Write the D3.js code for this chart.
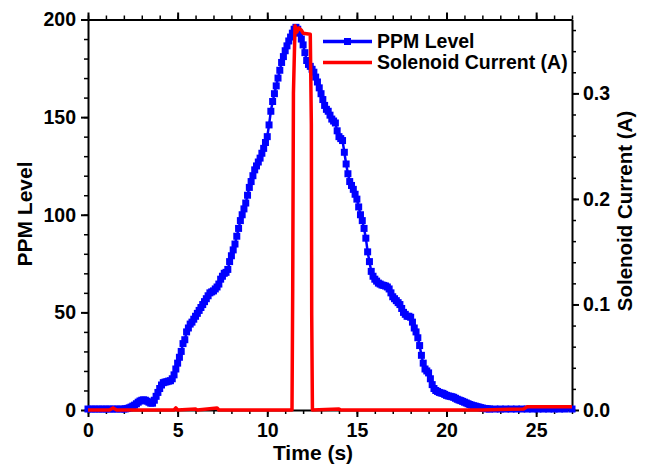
<!DOCTYPE html>
<html>
<head>
<meta charset="utf-8">
<script src="https://cdn.jsdelivr.net/npm/d3@7"></script>
<style>
  body { margin: 0; background: #fff; }
  text { font-family: "Liberation Sans", Arial, sans-serif; font-weight: bold; fill: #000; }
</style>
</head>
<body>
<script>
// PPM level readings (time in s, level in ppm)
var ppmTime = [0, 0.2, 0.4, 0.6, 0.8, 1.0, 1.2, 1.4, 1.6, 1.8,
  2.0, 2.1, 2.2, 2.3, 2.4, 2.5, 2.6, 2.7, 2.8, 2.9, 3.0, 3.1, 3.2, 3.3, 3.4, 3.5, 3.6, 3.7, 3.8, 3.9,
  4.0, 4.1, 4.2, 4.3, 4.4, 4.5, 4.6, 4.7, 4.8, 4.9, 5.0, 5.1, 5.2, 5.3, 5.4, 5.5, 5.6, 5.7, 5.8, 5.9,
  6.0, 6.1, 6.2, 6.3, 6.4, 6.5, 6.6, 6.7, 6.8, 6.9, 7.0, 7.1, 7.2, 7.3, 7.4, 7.5, 7.6, 7.7, 7.8, 7.9,
  8.0, 8.1, 8.2, 8.3, 8.4, 8.5, 8.6, 8.7, 8.8, 8.9, 9.0, 9.1, 9.2, 9.3, 9.4, 9.5, 9.6, 9.7, 9.8, 9.9,
  10.0, 10.1, 10.2, 10.3, 10.4, 10.5, 10.6, 10.7, 10.8, 10.9, 11.0, 11.1, 11.2, 11.3, 11.4, 11.5, 11.6, 11.7, 11.8, 11.9,
  12.0, 12.1, 12.2, 12.3, 12.4, 12.5, 12.6, 12.7, 12.8, 12.9, 13.0, 13.1, 13.2, 13.3, 13.4, 13.5, 13.6, 13.7, 13.8, 13.9,
  14.0, 14.1, 14.2, 14.3, 14.4, 14.5, 14.6, 14.7, 14.8, 14.9, 15.0, 15.1, 15.2, 15.3, 15.4, 15.5, 15.6, 15.7, 15.8, 15.9,
  16.0, 16.1, 16.2, 16.3, 16.4, 16.5, 16.6, 16.7, 16.8, 16.9, 17.0, 17.1, 17.2, 17.3, 17.4, 17.5, 17.6, 17.7, 17.8, 17.9,
  18.0, 18.1, 18.2, 18.3, 18.4, 18.5, 18.6, 18.7, 18.8, 18.9, 19.0, 19.1, 19.2, 19.3, 19.4, 19.5, 19.6, 19.7, 19.8, 19.9,
  20.0, 20.1, 20.2, 20.3, 20.4, 20.5, 20.6, 20.7, 20.8, 20.9, 21.0, 21.1, 21.2, 21.3, 21.4, 21.5, 21.6, 21.7, 21.8, 21.9,
  22.0, 22.1, 22.2, 22.3, 22.4, 22.7, 23.0, 23.3, 23.6, 23.9, 24.2, 24.5, 24.8, 25.1, 25.4, 25.7, 26.0, 26.3, 26.6, 27.0];
var ppmLevel = [0.5, 0.5, 0.5, 0.5, 0.5, 0.5, 0.5, 0.5, 0.5, 0.5,
  0.5, 0.6, 0.8, 1.1, 1.5, 2, 2.5, 3.2, 4, 4.6, 5, 5.2, 5, 4.5, 4, 3.5, 3.5, 5, 7, 9,
  11, 12.8, 14, 14.3, 14.5, 14.8, 15, 16, 18, 21, 24, 27, 30, 34, 36, 40, 42, 44, 45, 46.5,
  48, 49.5, 51, 52.5, 54, 55.5, 57, 58.5, 60, 60.5, 61, 62, 63, 64.5, 67, 68.5, 70, 70.5, 72, 76,
  79, 82, 85, 89, 93, 97, 100, 103, 106, 110, 114, 117, 120, 123, 125, 127, 129, 131.5, 134, 137,
  140, 146, 153, 158, 162, 166, 170, 174, 178, 181, 184, 186.5, 189, 191, 193, 195, 196, 195, 193, 190,
  187, 183, 179, 177, 176, 174.5, 173, 170.5, 168, 165, 162, 159, 156, 154, 153, 151, 149, 148, 147, 143,
  140, 139, 138, 132, 126, 121, 117, 115, 113, 110.5, 108, 104, 100, 97, 93, 88, 81, 76, 71, 68.5,
  67, 66, 65, 64.5, 64, 63.8, 63.5, 63, 62, 60, 58, 57, 56, 55, 54, 52, 50, 49, 48, 48,
  47.5, 45, 42, 40, 37, 33, 28, 24, 21, 20, 19, 16, 13, 11, 10, 9.5, 9, 8.7, 8.5, 8,
  7.5, 7.2, 7, 6.8, 6.5, 6, 5.5, 5.1, 4.8, 4.4, 4, 3.6, 3.2, 2.8, 2.5, 2.2, 2, 1.7, 1.5, 1.2,
  1, 0.8, 0.7, 0.6, 0.5, 0.5, 0.5, 0.5, 0.5, 0.5, 0.5, 0.5, 0.5, 0.5, 0.5, 0.5, 0.5, 0.5, 0.5, 0.5];

// solenoid current (A)
var curTime = [0, 1.2, 1.4, 1.6, 4.8, 4.9, 5.0, 6.0, 6.1, 7.2, 7.3, 11.38, 11.42, 11.46, 11.55, 11.65, 11.75, 11.9, 12.0, 12.4,
  12.46, 12.48, 12.52, 14.0, 14.1, 22.0, 24.3, 24.5, 27.0];
var curValue = [0, 0, 0.002, 0, 0, 0.002, 0, 0.001, 0, 0.002, 0, 0, 0.115, 0.30, 0.364, 0.358, 0.362, 0.36, 0.357, 0.356,
  0.27, 0.09, 0, 0.001, 0, 0, 0.001, 0.003, 0.003];

var xTicks = [0, 5, 10, 15, 20, 25];
var yTicks = [0, 50, 100, 150, 200];
var y2Ticks = [0, 0.1, 0.2, 0.3];

var W = 649, H = 473;
var margin = {top: 19.5, right: 77, bottom: 63, left: 88},
  width = W - margin.left - margin.right,
  height = H - margin.top - margin.bottom;

var svg = d3.select("body").append("svg")
  .attr("width", W).attr("height", H);
var g = svg.append("g")
  .attr("transform", "translate(" + margin.left + "," + margin.top + ")");

var x = d3.scaleLinear().domain([0, 27]).range([0, width]);
var y = d3.scaleLinear().domain([0, 200]).range([height, 0]);
var y2 = d3.scaleLinear().domain([0, 0.37]).range([height, 0]);

// minor ticks first, then major axes with labels
function minor(axisFn, scale, vals, tx) {
  g.append("g").attr("transform", tx || null)
    .call(axisFn(scale).tickValues(vals).tickSize(4).tickFormat(""))
    .call(function (s) { s.select(".domain").remove(); s.selectAll("line").attr("stroke-width", 1.5); });
}
minor(d3.axisBottom, x, d3.range(0, 28, 1), "translate(0," + height + ")");
minor(d3.axisTop, x, d3.range(0, 28, 1));
minor(d3.axisLeft, y, d3.range(0, 201, 10));
minor(d3.axisRight, y2, d3.range(0, 0.37, 0.02), "translate(" + width + ",0)");

function styleAx(s) {
  s.select(".domain").attr("stroke-width", 2);
  s.selectAll(".tick line").attr("stroke-width", 2);
  s.selectAll("text").style("font-size", "19.5px").style("font-family", "'Liberation Sans', Arial, sans-serif").style("font-weight", "bold");
}

g.append("g").attr("transform", "translate(0," + height + ")")
  .call(d3.axisBottom(x).tickValues(xTicks).tickSize(7).tickPadding(6).tickSizeOuter(0))
  .call(styleAx);
g.append("g")
  .call(d3.axisTop(x).tickValues(xTicks).tickSize(7).tickFormat("").tickSizeOuter(0))
  .call(styleAx);
g.append("g")
  .call(d3.axisLeft(y).tickValues(yTicks).tickSize(7).tickPadding(5).tickSizeOuter(0))
  .call(styleAx);
g.append("g").attr("transform", "translate(" + width + ",0)")
  .call(d3.axisRight(y2).tickValues(y2Ticks).tickSize(7).tickPadding(4).tickFormat(d3.format(".1f")).tickSizeOuter(0))
  .call(styleAx);

// PPM series: line + square markers
var ppm = ppmTime.map(function (t, i) { return [t, ppmLevel[i]]; });
g.append("path").datum(ppm)
  .attr("fill", "none").attr("stroke", "#0000ff").attr("stroke-width", 2.5)
  .attr("d", d3.line().x(function (d) { return x(d[0]); }).y(function (d) { return y(d[1]); }));
var ms = 7;
g.selectAll(".mk").data(ppm).enter().append("rect")
  .attr("class", "mk")
  .attr("x", function (d) { return x(d[0]) - ms / 2; })
  .attr("y", function (d) { return y(d[1]) - ms / 2; })
  .attr("width", ms).attr("height", ms)
  .attr("fill", "#0000ff");

// current series
var cur = curTime.map(function (t, i) { return [t, curValue[i]]; });
g.append("path").datum(cur)
  .attr("fill", "none").attr("stroke", "#ff0000").attr("stroke-width", 3.5)
  .attr("stroke-linejoin", "round")
  .attr("d", d3.line().x(function (d) { return x(d[0]); }).y(function (d) { return y2(d[1]); }));

// axis titles
svg.append("text").attr("x", 313).attr("y", 460).attr("text-anchor", "middle")
  .style("font-size", "21px").text("Time (s)");
svg.append("text").attr("transform", "translate(32,214) rotate(-90)").attr("text-anchor", "middle")
  .style("font-size", "21px").text("PPM Level");
svg.append("text").attr("transform", "translate(632,211) rotate(-90)").attr("text-anchor", "middle")
  .style("font-size", "20.5px").text("Solenoid Current (A)");

// legend
var leg = svg.append("g");
leg.append("line").attr("x1", 323).attr("x2", 372).attr("y1", 41.5).attr("y2", 41.5)
  .attr("stroke", "#0000ff").attr("stroke-width", 3.5);
leg.append("rect").attr("x", 347.5 - ms / 2).attr("y", 41.5 - ms / 2).attr("width", ms).attr("height", ms).attr("fill", "#0000ff");
leg.append("text").attr("x", 377).attr("y", 48).style("font-size", "19.5px").text("PPM Level");
leg.append("line").attr("x1", 323).attr("x2", 372).attr("y1", 62.5).attr("y2", 62.5)
  .attr("stroke", "#ff0000").attr("stroke-width", 3.5);
leg.append("text").attr("x", 377).attr("y", 69).style("font-size", "19.5px").text("Solenoid Current (A)");
</script>
</body>
</html>
